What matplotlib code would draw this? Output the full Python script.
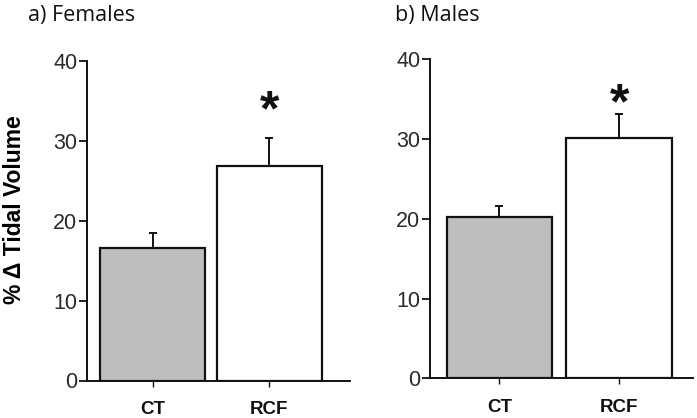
import matplotlib
matplotlib.use("Agg")
import matplotlib.pyplot as plt

categories = ["CT", "RCF"]
females_mean = [16.6, 26.9]
females_err = [1.9, 3.5]
males_mean = [20.2, 30.1]
males_err = [1.4, 3.0]
star_y = [33.6, 34.2]
bar_colors = ["#bebebe", "#ffffff"]
yticks = [0, 10, 20, 30, 40]

plt.rcParams['font.family'] = ['Liberation Sans', 'DejaVu Sans']

fig = plt.figure(figsize=(6.97, 4.18), dpi=100)

panels = [
    dict(rect=[87/697, 37.5/418, 263/697, 319.5/418], xlim=(-0.565, 1.693),
         means=females_mean, errs=females_err, title="a) Females", tx=28/697, width=0.9),
    dict(rect=[430/697, 39.7/418, 263/697, 319/418], xlim=(-0.58, 1.617),
         means=males_mean, errs=males_err, title="b) Males", tx=395/697, width=0.88),
]

for i, p in enumerate(panels):
    ax = fig.add_axes(p["rect"])
    x = list(range(len(categories)))
    ax.bar(x, p["means"], width=p["width"], color=bar_colors, edgecolor="#111111",
           linewidth=1.6, zorder=2)
    for xi, m, e in zip(x, p["means"], p["errs"]):
        ax.errorbar([xi], [m], yerr=[[0], [e]], fmt="none", ecolor="#111111",
                    elinewidth=1.4, capsize=3, capthick=1.4, zorder=1)
    # significance star above RCF
    ax.text(1, star_y[i], "*", ha="center", va="center",
            fontsize=36, fontweight="bold", color="#111111")
    ax.set_xlim(*p["xlim"])
    ax.set_ylim(0, 40)
    ax.set_yticks(yticks)
    ax.set_xticks(x)
    ax.set_xticklabels(categories, fontweight="bold", fontsize=13.5)
    ax.tick_params(axis="y", direction="out", length=6, width=1.3, labelsize=15.5,
                   colors="#111111", labelcolor="#2a2a2a", pad=1)
    ax.tick_params(axis="x", direction="out", length=4, width=1.0, pad=11,
                   colors="#111111", labelcolor="#111111")
    for s in ["top", "right"]:
        ax.spines[s].set_visible(False)
    for s in ["left", "bottom"]:
        ax.spines[s].set_linewidth(1.4)
        ax.spines[s].set_color("#111111")
    ax.set_facecolor("none")
    if i == 0:
        ax.set_ylabel("% \u0394 Tidal Volume", fontsize=16.5, fontweight="bold")
        ax.yaxis.set_label_coords(-61/263, 0.535)
    fig.text(p["tx"], 1 - 15/418, p["title"], fontsize=15.5,
             family=["Open Sans", "DejaVu Sans"], ha="left", va="center", color="#111111")

fig.savefig("out.png", dpi=100)
